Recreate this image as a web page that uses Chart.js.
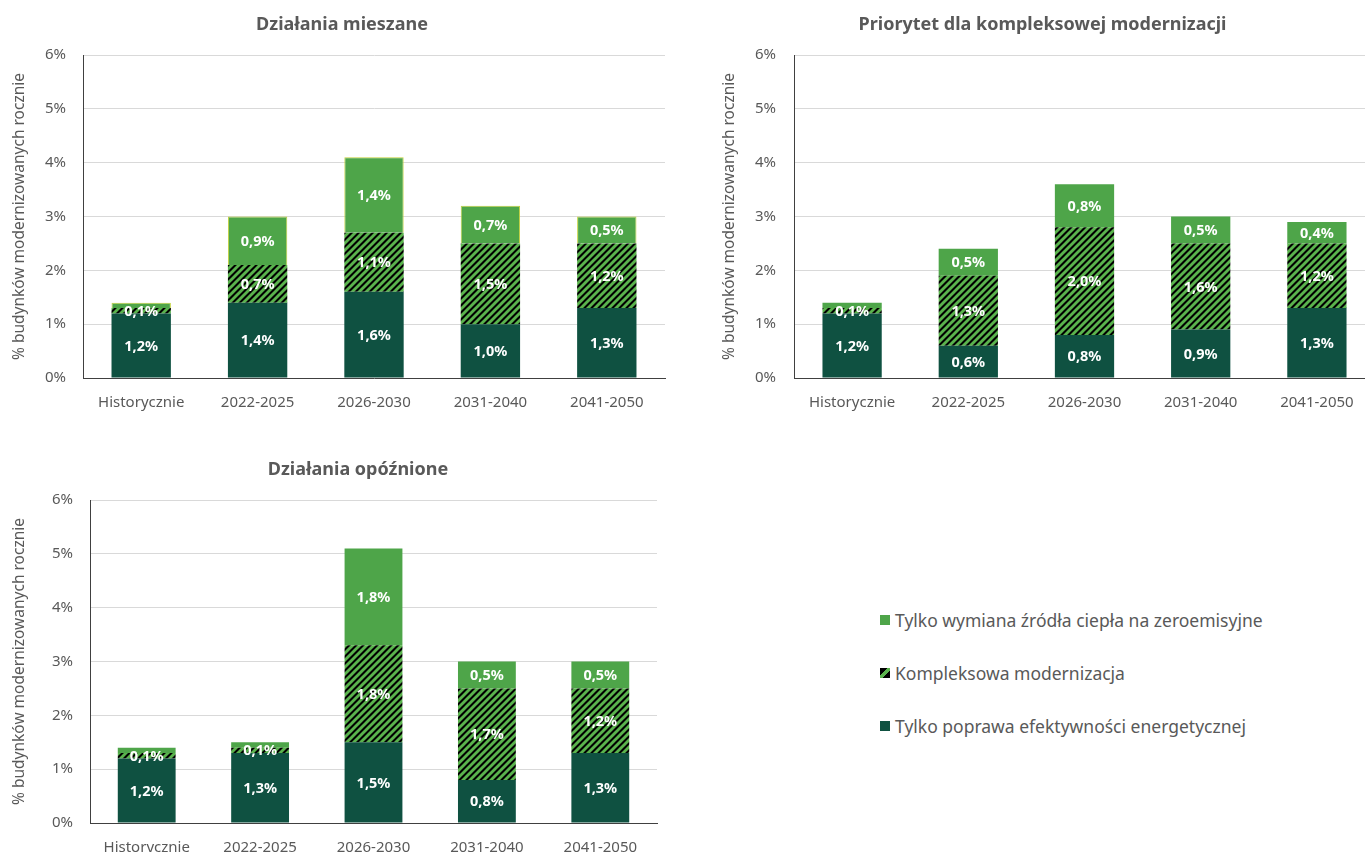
<!DOCTYPE html>
<html lang="pl">
<head>
<meta charset="utf-8">
<script src="https://cdn.jsdelivr.net/npm/chart.js@4.4.1/dist/chart.umd.min.js"></script>
<style>
  html, body { margin: 0; padding: 0; background: #fff; }
  body { width: 1365px; height: 852px; overflow: hidden; position: relative; font-family: "Noto Sans", sans-serif; }
  .box { position: absolute; }
  #legend { position: absolute; left: 880px; top: 593px; color: #595959; font-size: 17.5px; }
  .item { display: flex; align-items: center; height: 53px; white-space: nowrap; }
  .swatch { width: 10px; height: 10px; margin-right: 5px; flex: none; }
</style>
</head>
<body>
<div class="box" style="left:0;top:0"><canvas id="chart1" width="684" height="420"></canvas></div>
<div class="box" style="left:700px;top:0"><canvas id="chart2" width="685" height="420"></canvas></div>
<div class="box" style="left:0;top:445px"><canvas id="chart3" width="716" height="420"></canvas></div>
<div id="legend"></div>
<script>
// Udział budynków modernizowanych rocznie w trzech scenariuszach

const periods = ["Historycznie", "2022-2025", "2026-2030", "2031-2040", "2041-2050"];
const seriesNames = [
  "Tylko poprawa efektywności energetycznej",
  "Kompleksowa modernizacja",
  "Tylko wymiana źródła ciepła na zeroemisyjne",
];
const titles = [
  "Działania mieszane",
  "Priorytet dla kompleksowej modernizacji",
  "Działania opóźnione",
];
const yTitle = "% budynków modernizowanych rocznie";
const yMax = 6;

// Działania mieszane
const mixedEfficiency = [1.2, 1.4, 1.6, 1.0, 1.3];
const mixedComplex = [0.1, 0.7, 1.1, 1.5, 1.2];
const mixedHeat = [0.1, 0.9, 1.4, 0.7, 0.5];

// Priorytet dla kompleksowej modernizacji
const priorityEfficiency = [1.2, 0.6, 0.8, 0.9, 1.3];
const priorityComplex = [0.1, 1.3, 2.0, 1.6, 1.2];
const priorityHeat = [0.1, 0.5, 0.8, 0.5, 0.4];

// Działania opóźnione
const delayedEfficiency = [1.2, 1.3, 1.5, 0.8, 1.3];
const delayedComplex = [0.1, 0.1, 1.8, 1.7, 1.2];
const delayedHeat = [0.1, 0.1, 1.8, 0.5, 0.5];

const darkGreen = "#0f5141";
const lightGreen = "#4ea549";
const grey = "#595959";

Chart.defaults.font.family = '"Noto Sans", sans-serif';
Chart.defaults.color = grey;

function hatchPattern() {
  const c = document.createElement("canvas");
  const s = 7;
  c.width = s;
  c.height = s;
  const g = c.getContext("2d");
  g.fillStyle = "#000";
  g.fillRect(0, 0, s, s);
  g.strokeStyle = "#5ab34d";
  g.lineWidth = 2.9;
  g.beginPath();
  g.moveTo(0, s); g.lineTo(s, 0);
  g.moveTo(-s / 2, s / 2); g.lineTo(s / 2, -s / 2);
  g.moveTo(s / 2, s * 1.5); g.lineTo(s * 1.5, s / 2);
  g.stroke();
  return g.createPattern(c, "repeat");
}
const hatch = hatchPattern();

// white value labels in the middle of each segment
const segmentLabels = {
  id: "segmentLabels",
  afterDatasetsDraw(chart) {
    const ctx = chart.ctx;
    ctx.save();
    ctx.font = 'bold 14.5px "Noto Sans", sans-serif';
    ctx.fillStyle = "#fff";
    ctx.textAlign = "center";
    ctx.textBaseline = "middle";
    chart.data.datasets.forEach((ds, i) => {
      const meta = chart.getDatasetMeta(i);
      meta.data.forEach((bar, j) => {
        const v = ds.data[j];
        if (v < ds.labelMin) return;
        const y = (bar.y + bar.base) / 2;
        ctx.fillText(v.toFixed(1).replace(".", ",") + "%", bar.x, y + 1);
      });
    });
    ctx.restore();
  },
};

function makeChart(id, title, efficiency, complex, heat, lay) {
  const datasets = [
    {
      label: seriesNames[0],
      data: efficiency,
      backgroundColor: darkGreen,
      labelMin: 0,
    },
    {
      label: seriesNames[1],
      data: complex,
      backgroundColor: hatch,
      labelMin: 0,
    },
    {
      label: seriesNames[2],
      data: heat,
      backgroundColor: lightGreen,
      borderColor: lay.heatBorder || lightGreen,
      borderWidth: lay.heatBorder ? 1 : 0,
      labelMin: 0.15,
    },
  ];
  datasets.forEach((d) => {
    d.categoryPercentage = 1;
    d.barPercentage = 0.51;
  });

  return new Chart(document.getElementById(id), {
    type: "bar",
    data: { labels: periods, datasets: datasets },
    options: {
      responsive: false,
      animation: false,
      layout: { padding: 0 },
      plugins: {
        legend: { display: false },
        tooltip: { enabled: false },
        title: {
          display: true,
          text: title,
          color: grey,
          font: { size: 18, weight: "bold" },
          padding: { top: 14.2, bottom: 19.2 },
        },
      },
      scales: {
        x: {
          stacked: true,
          grid: { display: false, drawTicks: false },
          border: { display: true, color: "#404040" },
          ticks: { color: grey, font: { size: 15 }, padding: 16, maxRotation: 0 },
          afterFit: (s) => { s.height = 42; },
        },
        y: {
          stacked: true,
          min: 0,
          max: yMax,
          grid: { color: "#d9d9d9", drawTicks: false },
          border: { display: true, color: "#404040" },
          ticks: {
            stepSize: 1,
            color: grey,
            font: { size: 15 },
            padding: lay.tickPad,
            callback: (v) => v + "%",
          },
          title: {
            display: true,
            text: yTitle,
            color: grey,
            font: { size: 15.5 },
            padding: { top: lay.titlePad, bottom: 0 },
          },
          afterFit: (s) => { s.width = lay.yWidth; },
        },
        spare: {
          position: "right",
          grid: { display: false },
          border: { display: false },
          ticks: { display: false },
          afterFit: (s) => { s.width = lay.rightWidth; },
        },
      },
    },
    plugins: [segmentLabels],
  });
}

makeChart("chart1", titles[0], mixedEfficiency, mixedComplex, mixedHeat,
  { yWidth: 83, rightWidth: 19, tickPad: 17, titlePad: 10.7, heatBorder: "#c3d23b" });
makeChart("chart2", titles[1], priorityEfficiency, priorityComplex, priorityHeat,
  { yWidth: 94, rightWidth: 10, tickPad: 18, titlePad: 20.7 });
makeChart("chart3", titles[2], delayedEfficiency, delayedComplex, delayedHeat,
  { yWidth: 90, rightWidth: 59, tickPad: 17, titlePad: 10 });

// legend, top entry first
const swatches = [
  darkGreen,
  "linear-gradient(135deg, #000 0 38%, #5ab34d 38% 62%, #000 62% 100%)",
  lightGreen,
];
const legend = document.getElementById("legend");
[2, 1, 0].forEach((i) => {
  const item = document.createElement("div");
  item.className = "item";
  const sw = document.createElement("span");
  sw.className = "swatch";
  sw.style.background = swatches[i];
  item.appendChild(sw);
  item.appendChild(document.createTextNode(seriesNames[i]));
  legend.appendChild(item);
});
</script>
</body>
</html>
